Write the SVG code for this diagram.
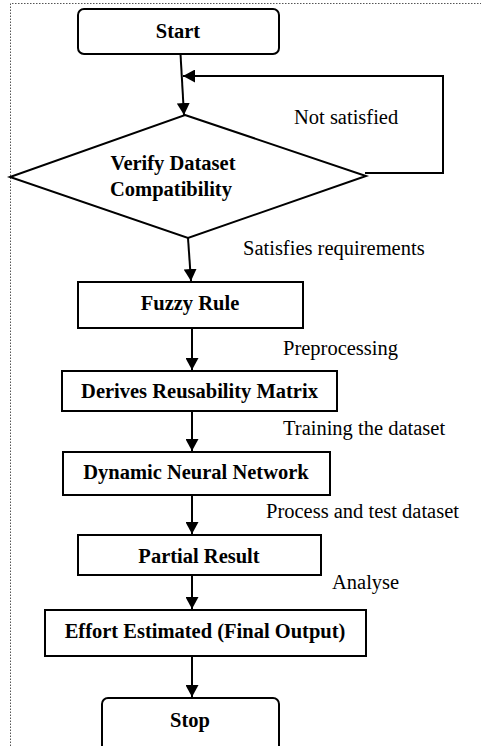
<svg xmlns="http://www.w3.org/2000/svg" width="481" height="746" viewBox="0 0 481 746">
<style>
.box{fill:#fff;stroke:#000;stroke-width:2}
.t{font-family:"Liberation Serif","Times New Roman",serif;font-size:20.5px;fill:#000}
.b{font-weight:bold;text-anchor:middle}
.c{fill:none;stroke:#000;stroke-width:2}
</style>
<defs>
<marker id="ah" markerUnits="userSpaceOnUse" markerWidth="13" markerHeight="13" refX="12" refY="6.5" orient="auto">
<path d="M0,0 L12,6.5 L0,13 z" fill="#000"/>
</marker>
</defs>
<rect x="0" y="0" width="481" height="746" fill="#fff"/>
<path d="M10.5,746 V3.5 H481" fill="none" stroke="#555" stroke-width="1" stroke-dasharray="1.5,1.5"/>
<g id="connectors">
<path class="c" d="M180.5,54 L184,115" marker-end="url(#ah)"/>
<path class="c" d="M365,173 H443 V76 H183" marker-end="url(#ah)"/>
<path class="c" d="M188,238 L191,281" marker-end="url(#ah)"/>
<path class="c" d="M192,328 V370" marker-end="url(#ah)"/>
<path class="c" d="M192,411 V451" marker-end="url(#ah)"/>
<path class="c" d="M192,495 V534" marker-end="url(#ah)"/>
<path class="c" d="M192,575 V609" marker-end="url(#ah)"/>
<path class="c" d="M192,656 V697" marker-end="url(#ah)"/>
<text class="t" x="294" y="124">Not satisfied</text>
<text class="t" x="243" y="255">Satisfies requirements</text>
<text class="t" x="283" y="355">Preprocessing</text>
<text class="t" x="283" y="435">Training the dataset</text>
<text class="t" x="266" y="518">Process and test dataset</text>
<text class="t" x="332" y="589">Analyse</text>
</g>
<g id="start">
<rect class="box" x="78" y="9" width="201" height="45" rx="6"/>
<text class="t b" x="178" y="38">Start</text>
</g>
<g id="verify">
<polygon class="box" points="185,115 366,176 188,238 10,177"/>
<text class="t b" x="173" y="170">Verify Dataset</text>
<text class="t b" x="171" y="196">Compatibility</text>
</g>
<g id="fuzzy">
<rect class="box" x="78" y="282" width="225" height="46"/>
<text class="t b" x="190" y="310">Fuzzy Rule</text>
</g>
<g id="derives">
<rect class="box" x="62" y="371" width="275" height="40"/>
<text class="t b" x="199.5" y="398">Derives Reusability Matrix</text>
</g>
<g id="dnn">
<rect class="box" x="63" y="452" width="267" height="43"/>
<text class="t b" x="196" y="479">Dynamic Neural Network</text>
</g>
<g id="partial">
<rect class="box" x="78" y="535" width="243" height="40"/>
<text class="t b" x="199" y="563">Partial Result</text>
</g>
<g id="effort">
<rect class="box" x="45" y="610" width="321" height="46"/>
<text class="t b" x="205" y="638">Effort Estimated (Final Output)</text>
</g>
<g id="stop">
<rect class="box" x="102" y="698" width="177" height="60" rx="6"/>
<text class="t b" x="190" y="727">Stop</text>
</g>
</svg>
